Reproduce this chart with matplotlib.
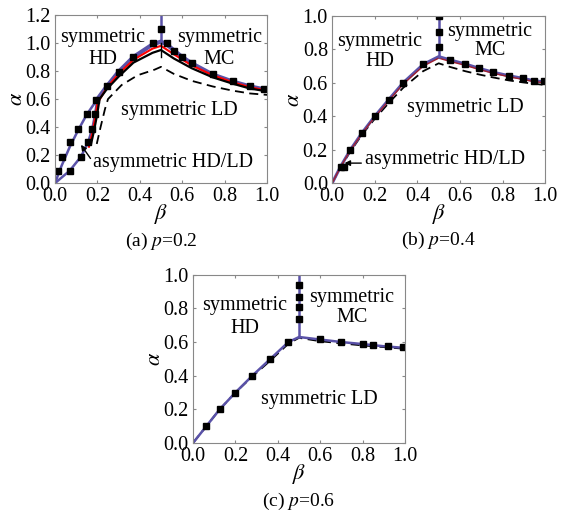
import matplotlib.pyplot as plt

plt.rcParams['font.family'] = ['Liberation Serif', 'DejaVu Serif']
plt.rcParams['mathtext.fontset'] = 'stix'

# ---- panel (a) p=0.2 ----
a_up_b = [0.0, 0.03, 0.07, 0.11, 0.15, 0.2]
a_up_a = [0.0, 0.12, 0.26, 0.38, 0.49, 0.6]
a_lo_b = [0.0, 0.07, 0.123, 0.157, 0.176, 0.189, 0.2]
a_lo_a = [0.0, 0.09, 0.19, 0.295, 0.39, 0.49, 0.6]
a_blue_b = [0.2, 0.244, 0.3, 0.37, 0.46, 0.5, 0.527, 0.563, 0.6, 0.645, 0.744, 0.838, 0.92, 1.0]
a_blue_a = [0.6, 0.69, 0.795, 0.9, 0.99, 1.01, 0.99, 0.945, 0.9, 0.855, 0.775, 0.725, 0.69, 0.665]
a_vert_a = [1.0, 1.2]
a_red_b = [0.16, 0.175, 0.19, 0.2, 0.244, 0.3, 0.37, 0.46, 0.5, 0.56, 0.645, 0.744, 0.838, 0.92, 1.0]
a_red_a = [0.26, 0.35, 0.47, 0.57, 0.68, 0.78, 0.88, 0.96, 0.98, 0.92, 0.84, 0.77, 0.72, 0.685, 0.66]
a_blk_b = [0.17, 0.185, 0.2, 0.21, 0.244, 0.3, 0.37, 0.46, 0.5, 0.56, 0.645, 0.744, 0.838, 0.92, 1.0]
a_blk_a = [0.28, 0.38, 0.5, 0.6, 0.67, 0.76, 0.86, 0.93, 0.95, 0.89, 0.82, 0.755, 0.71, 0.675, 0.655]
a_blk_tick_a = [0.9, 1.0]
a_dash_b = [0.197, 0.215, 0.236, 0.25, 0.314, 0.39, 0.47, 0.5, 0.56, 0.645, 0.744, 0.838, 0.92, 1.0]
a_dash_a = [0.28, 0.4, 0.53, 0.6, 0.7, 0.77, 0.81, 0.83, 0.78, 0.73, 0.69, 0.66, 0.64, 0.63]
a_mk_b = [0.016, 0.035, 0.071, 0.11, 0.149, 0.192, 0.071, 0.123, 0.157, 0.176, 0.189,
          0.244, 0.30, 0.37, 0.46, 0.5, 0.527, 0.563, 0.60, 0.645, 0.744, 0.838, 0.92, 0.986]
a_mk_a = [0.09, 0.19, 0.295, 0.39, 0.49, 0.59, 0.09, 0.19, 0.295, 0.39, 0.49,
          0.69, 0.795, 0.9, 1.0, 1.1, 1.0, 0.945, 0.9, 0.855, 0.78, 0.73, 0.69, 0.67]

# ---- panel (b) p=0.4 ----
b_blue_b = [0.0, 0.04, 0.086, 0.14, 0.2, 0.266, 0.333, 0.427, 0.5, 0.554, 0.624, 0.69,
            0.757, 0.828, 0.894, 0.945, 1.0]
b_blue_a = [0.0, 0.1, 0.2, 0.3, 0.4, 0.5, 0.6, 0.71, 0.757, 0.737, 0.713, 0.687,
            0.663, 0.643, 0.627, 0.613, 0.605]
b_red_a = [0.0, 0.098, 0.197, 0.296, 0.395, 0.494, 0.592, 0.7, 0.748, 0.728, 0.705, 0.68,
           0.657, 0.637, 0.621, 0.608, 0.6]
b_dash_a = [0.0, 0.095, 0.19, 0.29, 0.385, 0.48, 0.57, 0.67, 0.717, 0.695, 0.67, 0.65,
            0.632, 0.615, 0.603, 0.595, 0.587]
b_vert_a = [0.757, 1.0]
b_mk_b = [0.04, 0.055, 0.086, 0.14, 0.2, 0.266, 0.333, 0.427, 0.5, 0.5, 0.5, 0.554, 0.624,
          0.69, 0.757, 0.828, 0.894, 0.945, 0.995]
b_mk_a = [0.095, 0.095, 0.2, 0.3, 0.4, 0.5, 0.6, 0.71, 0.816, 0.905, 1.0, 0.737, 0.713,
          0.687, 0.663, 0.643, 0.627, 0.613, 0.61]

# ---- panel (c) p=0.6 ----
c_blue_b = [0.0, 0.063, 0.126, 0.2, 0.28, 0.365, 0.45, 0.5, 0.6, 0.7, 0.8, 0.9, 1.0]
c_blue_a = [0.0, 0.1, 0.2, 0.3, 0.4, 0.5, 0.6, 0.63, 0.615, 0.6, 0.588, 0.575, 0.565]
c_dash_a = [0.0, 0.1, 0.2, 0.3, 0.395, 0.49, 0.59, 0.625, 0.605, 0.592, 0.58, 0.57, 0.56]
c_vert_a = [0.63, 1.0]
c_mk_b = [0.063, 0.126, 0.2, 0.28, 0.365, 0.45, 0.5, 0.5, 0.5, 0.5, 0.6, 0.7, 0.8, 0.85, 0.92, 0.99]
c_mk_a = [0.1, 0.2, 0.3, 0.4, 0.5, 0.6, 0.74, 0.81, 0.87, 0.94, 0.62, 0.6, 0.59, 0.585, 0.578, 0.57]

BLUE = '#5a52a8'
FS = 14.5
DASH = (0, (5, 3))


def style_axes(ax, ymax, caption):
    ax.set_xlim(0, 1)
    ax.set_ylim(0, ymax)
    ax.set_xticks([0, 0.2, 0.4, 0.6, 0.8, 1.0])
    ax.set_xticklabels(['0.0', '0.2', '0.4', '0.6', '0.8', '1.0'])
    yt = [i * 0.2 for i in range(int(round(ymax / 0.2)) + 1)]
    ax.set_yticks(yt)
    ax.set_yticklabels(['%.1f' % v for v in yt])
    ax.tick_params(direction='in', length=2.5, color='#888888', labelsize=14.5,
                   top=True, right=True)
    ax.tick_params(axis='x', pad=3)
    ax.tick_params(axis='y', pad=3)
    for s in ax.spines.values():
        s.set_color('#888888')
        s.set_linewidth(0.8)
    ax.set_xlabel(r'$\beta$', fontsize=16, labelpad=-3)
    ax.set_ylabel(r'$\alpha$', fontsize=16, labelpad=-1)
    ax.text(0.5, -0.345, caption, transform=ax.transAxes, ha='center', va='center', fontsize=14)


def two_lines(ax, x, y1, y2, top, bottom):
    ax.text(x, y1, top, ha='center', va='center', fontsize=FS)
    ax.text(x, y2, bottom, ha='center', va='center', fontsize=FS)


fig = plt.figure(figsize=(5.61, 5.16), dpi=100)

# (a)
ax = fig.add_axes([0.098, 0.645, 0.378, 0.326])
ax.plot(a_dash_b, a_dash_a, color='black', ls=DASH, lw=1.3)
ax.plot(a_up_b, a_up_a, color=BLUE, lw=1.8)
ax.plot(a_lo_b, a_lo_a, color=BLUE, lw=1.8)
ax.plot(a_blue_b, a_blue_a, color=BLUE, lw=3.0)
ax.plot([0.5, 0.5], a_vert_a, color=BLUE, lw=1.8)
ax.plot(a_red_b, a_red_a, color='red', lw=1.5)
ax.plot(a_blk_b, a_blk_a, color='black', lw=1.6)
ax.plot([0.5, 0.5], a_blk_tick_a, color='black', lw=1.0)
ax.plot(a_mk_b, a_mk_a, ls='none', marker='s', ms=4.5, color='black')
two_lines(ax, 0.224, 1.04, 0.885, 'symmetric', 'HD')
two_lines(ax, 0.775, 1.04, 0.885, 'symmetric', 'MC')
ax.text(0.585, 0.52, 'symmetric LD', ha='center', va='center', fontsize=FS)
ax.text(0.18, 0.15, 'asymmetric HD/LD', ha='left', va='center', fontsize=FS)
ax.annotate('', xy=(0.115, 0.29), xytext=(0.175, 0.16),
            arrowprops=dict(arrowstyle='-|>', color='black', lw=1.0, mutation_scale=8))
style_axes(ax, 1.2, r'(a) $p$=0.2')

# (b)
ax = fig.add_axes([0.592, 0.645, 0.380, 0.324])
ax.plot(b_blue_b, b_dash_a, color='black', ls=DASH, lw=1.3)
ax.plot(b_blue_b, b_blue_a, color=BLUE, lw=2.2)
ax.plot(b_blue_b, b_red_a, color='#a02030', lw=1.0)
ax.plot([0.5, 0.5], b_vert_a, color=BLUE, lw=1.8)
ax.plot(b_mk_b, b_mk_a, ls='none', marker='s', ms=4.5, color='black')
two_lines(ax, 0.225, 0.845, 0.725, 'symmetric', 'HD')
two_lines(ax, 0.74, 0.905, 0.795, 'symmetric', 'MC')
ax.text(0.625, 0.455, 'symmetric LD', ha='center', va='center', fontsize=FS)
ax.text(0.155, 0.14, 'asymmetric HD/LD', ha='left', va='center', fontsize=FS)
ax.annotate('', xy=(0.045, 0.12), xytext=(0.15, 0.12),
            arrowprops=dict(arrowstyle='-|>', color='black', lw=1.0, mutation_scale=8))
style_axes(ax, 1.0, r'(b) $p$=0.4')

# (c)
ax = fig.add_axes([0.344, 0.1415, 0.378, 0.326])
ax.plot(c_blue_b, c_dash_a, color='black', ls=DASH, lw=1.3)
ax.plot(c_blue_b, c_blue_a, color=BLUE, lw=1.8)
ax.plot([0.5, 0.5], c_vert_a, color=BLUE, lw=1.8)
ax.plot(c_mk_b, c_mk_a, ls='none', marker='s', ms=4.5, color='black')
two_lines(ax, 0.245, 0.815, 0.68, 'symmetric', 'HD')
two_lines(ax, 0.75, 0.865, 0.745, 'symmetric', 'MC')
ax.text(0.595, 0.256, 'symmetric LD', ha='center', va='center', fontsize=FS)
style_axes(ax, 1.0, r'(c) $p$=0.6')

fig.savefig('out.png', dpi=100)
